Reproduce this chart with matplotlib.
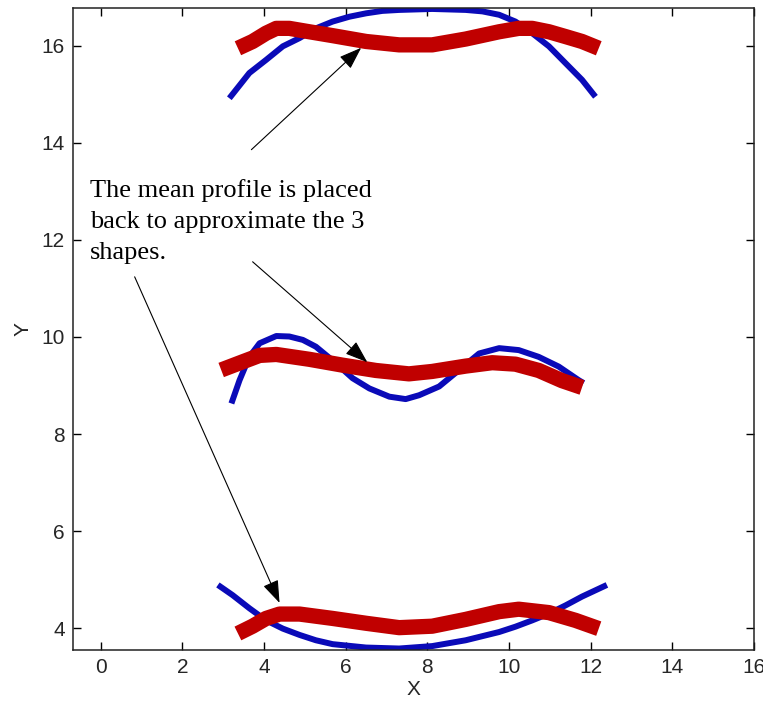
import numpy as np
import matplotlib
matplotlib.use('Agg')
import matplotlib.pyplot as plt

# the three original shapes (blue)
top_x = [3.15, 3.64, 4.05, 4.46, 4.87, 5.27, 5.68, 6.09, 6.5, 6.9, 7.31, 8.12,
         8.94, 9.35, 9.76, 10.16, 10.57, 10.98, 11.39, 11.79, 12.12]
top_y = [14.92, 15.44, 15.71, 15.99, 16.16, 16.36, 16.50, 16.60, 16.67, 16.72, 16.74, 16.76,
         16.74, 16.71, 16.64, 16.50, 16.26, 15.99, 15.64, 15.30, 14.95]

mid_x = [3.20, 3.40, 3.64, 3.89, 4.30, 4.62, 4.95, 5.27, 5.76, 6.17, 6.58, 7.07,
         7.47, 7.80, 8.29, 8.78, 9.27, 9.76, 10.24, 10.73, 11.22, 11.71, 11.83]
mid_y = [8.63, 9.11, 9.59, 9.87, 10.02, 10.01, 9.94, 9.80, 9.46, 9.15, 8.94, 8.77,
         8.72, 8.80, 8.98, 9.32, 9.66, 9.77, 9.73, 9.59, 9.39, 9.11, 9.05]

bot_x = [2.87, 3.23, 3.64, 4.05, 4.46, 4.87, 5.27, 5.68, 6.5, 7.31, 8.12, 8.94,
         9.76, 10.16, 10.57, 10.98, 11.39, 11.79, 12.40]
bot_y = [4.89, 4.68, 4.41, 4.16, 3.99, 3.86, 3.75, 3.67, 3.60, 3.58, 3.63, 3.75,
         3.92, 4.03, 4.16, 4.30, 4.47, 4.65, 4.89]

# mean profile placed back on each shape (red)
mtop_x = [3.36, 3.72, 4.05, 4.30, 4.62, 5.11, 5.68, 6.5, 7.31, 8.12, 8.94,
          9.76, 10.24, 10.57, 10.98, 11.39, 11.79, 12.2]
mtop_y = [15.95, 16.09, 16.26, 16.36, 16.36, 16.29, 16.21, 16.09, 16.02, 16.02, 16.14,
          16.29, 16.36, 16.36, 16.29, 16.19, 16.09, 15.95]

mmid_x = [2.95, 3.48, 3.89, 4.30, 5.11, 5.92, 6.74, 7.55, 8.12, 8.94,
          9.59, 10.16, 10.73, 11.30, 11.79]
mmid_y = [9.32, 9.49, 9.62, 9.64, 9.54, 9.42, 9.31, 9.24, 9.29, 9.40,
          9.47, 9.44, 9.31, 9.10, 8.96]

mbot_x = [3.36, 3.72, 4.05, 4.38, 4.87, 5.68, 6.5, 7.31, 8.12, 8.94, 9.76,
          10.24, 10.98, 11.63, 12.2]
mbot_y = [3.89, 4.04, 4.20, 4.29, 4.29, 4.20, 4.10, 4.01, 4.04, 4.18, 4.34,
          4.39, 4.32, 4.16, 3.99]

note = "The mean profile is placed\nback to approximate the 3\nshapes."
# arrows: (tail, head)
arrows = [((3.69, 13.86), (6.38, 15.96)),
          ((3.72, 11.55), (6.53, 9.48)),
          ((0.83, 11.24), (4.38, 4.52))]

tick_font = ['Liberation Sans Narrow', 'Liberation Sans', 'DejaVu Sans']

fig = plt.figure(figsize=(7.63, 7.13), dpi=100)
ax = fig.add_axes([0.0957, 0.0884, 0.8923, 0.9004])

blue = '#0a0ab8'
red = '#c00000'
for x, y in [(top_x, top_y), (mid_x, mid_y), (bot_x, bot_y)]:
    ax.plot(x, y, color=blue, lw=4.3, solid_capstyle='butt', solid_joinstyle='round')
for x, y in [(mtop_x, mtop_y), (mmid_x, mmid_y), (mbot_x, mbot_y)]:
    ax.plot(x, y, color=red, lw=11, solid_capstyle='butt', solid_joinstyle='round')

for tail, head in arrows:
    ax.annotate('', xy=head, xytext=tail,
                arrowprops=dict(arrowstyle='-|>,head_length=0.7,head_width=0.25',
                                color='k', lw=0.8, mutation_scale=20,
                                shrinkA=0, shrinkB=0))

ax.text(-0.27, 13.25, note, fontsize=19, family='Liberation Serif', va='top', ha='left',
        linespacing=1.52)

ax.set_xlim(-0.68, 16)
ax.set_ylim(3.55, 16.78)
ax.set_xticks(np.arange(0, 17, 2))
ax.set_yticks(np.arange(4, 17, 2))
ax.tick_params(direction='in', length=6, width=1, top=True, right=True,
               labelsize=15, labelcolor='#262626', pad=6)
for lab in ax.get_xticklabels() + ax.get_yticklabels():
    lab.set_family(tick_font)
for s in ax.spines.values():
    s.set_linewidth(1.1)
    s.set_color('#222222')

ax.set_xlabel('X', fontsize=15, family=tick_font, color='#262626', labelpad=2)
ax.set_ylabel('Y', fontsize=15, family=tick_font, color='#262626', labelpad=6)

plt.savefig('out.png', dpi=100)
